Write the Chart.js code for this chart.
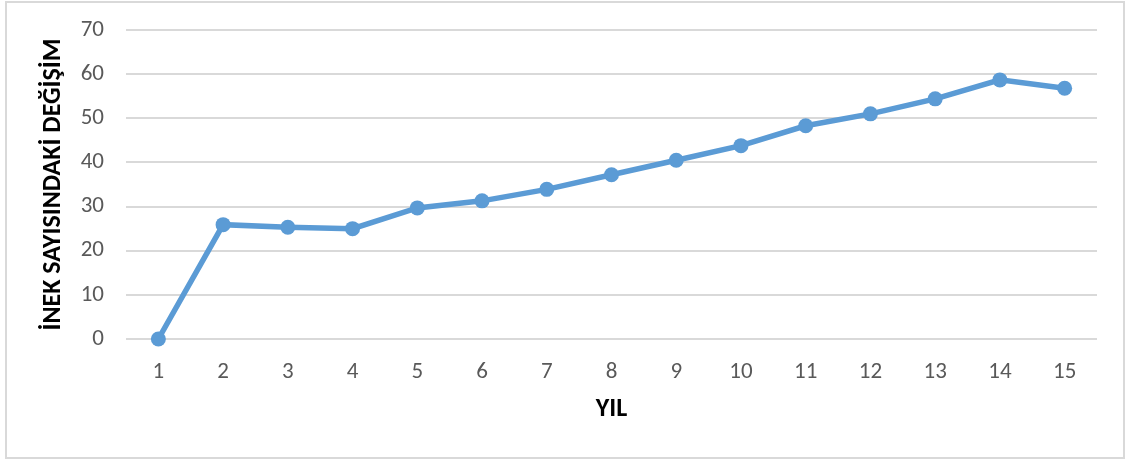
<!DOCTYPE html>
<html>
<head>
<meta charset="utf-8">
<script src="https://cdn.jsdelivr.net/npm/chart.js@4"></script>
<style>
	body { margin: 0; background: #fff; }
	#wrap { position: relative; width: 1132px; height: 461px; }
	#frame {
		position: absolute; left: 5px; top: 1px; width: 1116px; height: 454px;
		border: 2px solid #d9d9d9; pointer-events: none;
	}
</style>
</head>
<body>
<div id="wrap">
	<canvas id="cowchart" width="1132" height="461"></canvas>
	<div id="frame"></div>
</div>
<script>
// years and change in cow count
const years = ["1", "2", "3", "4", "5", "6", "7", "8", "9", "10", "11", "12", "13", "14", "15"];
const cowChange = [0, 25.9, 25.3, 25, 29.7, 31.3, 33.9, 37.2, 40.5, 43.8, 48.3, 51, 54.4, 58.7, 56.8];
const yMin = 0;
const yMax = 70;
const yStep = 10;

const fontFamily = "Calibri, Carlito, 'Open Sans', sans-serif";
const ctx = document.getElementById("cowchart").getContext("2d");

let cowChart = new Chart(ctx, {
	type: "line",
	data: {
		labels: years,
		datasets: [
			{
				label: "İnek sayısındaki değişim",
				data: cowChange,
				borderColor: "#5b9bd5",
				backgroundColor: "#5b9bd5",
				borderWidth: 5.5,
				pointRadius: 7.5,
				pointHoverRadius: 7.5,
				pointBorderWidth: 0,
				tension: 0,
				clip: false
			}
		]
	},
	options: {
		responsive: false,
		animation: false,
		layout: { padding: { left: 0, top: 30, right: 35, bottom: 0 } },
		plugins: {
			legend: { display: false },
			tooltip: { enabled: false }
		},
		scales: {
			x: {
				offset: true,
				grid: { display: false, drawTicks: false },
				border: { display: false },
				ticks: {
					color: "#595959",
					font: { family: fontFamily, size: 23 },
					padding: 19,
					maxRotation: 0
				},
				title: {
					display: true,
					text: "YIL",
					color: "#000",
					font: { family: fontFamily, size: 26, weight: "bold" },
					padding: { top: 0, bottom: 36 }
				},
				afterFit: function (scale) {
					scale.height = 461 - 339;
					scale.paddingLeft = 0;
					scale.paddingRight = 0;
				}
			},
			y: {
				min: yMin,
				max: yMax,
				grid: { color: "#d9d9d9", lineWidth: 2, drawTicks: false },
				border: { display: false },
				ticks: {
					stepSize: yStep,
					color: "#595959",
					font: { family: fontFamily, size: 23 },
					padding: 22
				},
				title: {
					display: true,
					text: "İNEK SAYISINDAKİ DEĞİŞİM",
					color: "#000",
					font: { family: fontFamily, size: 26, weight: "bold" },
					padding: { top: 38, bottom: 0 }
				},
				afterFit: function (scale) {
					scale.width = 126;
					scale.paddingTop = 0;
					scale.paddingBottom = 0;
				}
			}
		}
	}
});
</script>
</body>
</html>
